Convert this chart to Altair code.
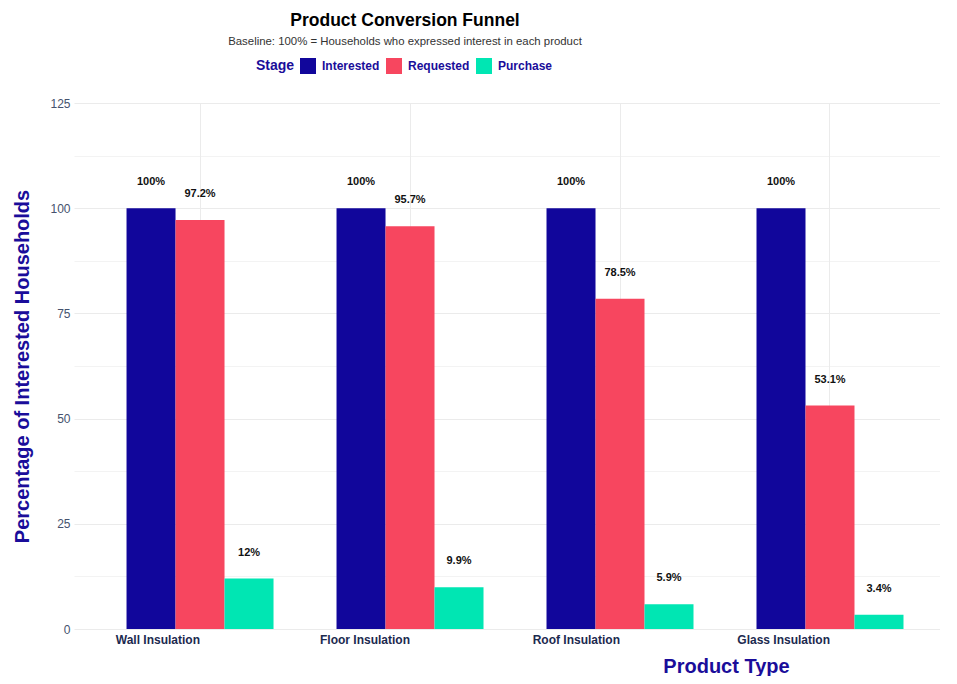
import altair as alt
import pandas as pd

products = ["Wall Insulation", "Floor Insulation", "Roof Insulation", "Glass Insulation"]
stages = ["Interested", "Requested", "Purchase"]
interested = [100, 100, 100, 100]
requested = [97.2, 95.7, 78.5, 53.1]
purchase = [12, 9.9, 5.9, 3.4]
stage_colors = ["#11069b", "#f7465f", "#00e6b3"]
y_ticks = [0, 12.5, 25, 37.5, 50, 62.5, 75, 87.5, 100, 112.5, 125]

rows = []
for i, p in enumerate(products):
    for s, vals in zip(stages, [interested, requested, purchase]):
        v = vals[i]
        rows.append({"Product": p, "Stage": s, "Value": v, "Label": f"{v:g}%"})
df = pd.DataFrame(rows)

FONT = "Liberation Sans"
NAVY = "#1a0d9a"

x_enc = alt.X(
    "Product:N",
    sort=products,
    scale=alt.Scale(paddingInner=0.3, paddingOuter=0.212, align=0.59),
    axis=alt.Axis(
        title="Product Type",
        titleFont=FONT,
        titleFontSize=20,
        titleFontWeight="bold",
        titleColor=NAVY,
        titleX=652,
        titleY=43,
        titleAlign="center",
        titleBaseline="alphabetic",
        labelAngle=0,
        labelAlign="right",
        labelFont=FONT,
        labelFontSize=12,
        labelFontWeight="bold",
        labelColor="#1c2a4f",
        labelPadding=5,
        ticks=False,
        tickSize=0,
        domain=False,
        grid=True,
        gridColor="#ebebeb",
        gridWidth=1,
    ),
)
xoff = alt.XOffset("Stage:N", sort=stages, scale=alt.Scale(paddingInner=0, paddingOuter=0))
y_enc = alt.Y(
    "Value:Q",
    scale=alt.Scale(domain=[0, 125], nice=False, zero=True),
    axis=alt.Axis(
        title="Percentage of Interested Households",
        titleFont=FONT,
        titleFontSize=20,
        titleFontWeight="bold",
        titleColor=NAVY,
        titlePadding=17,
        values=y_ticks,
        labelExpr="datum.value % 25 === 0 ? datum.label : ''",
        labelFont=FONT,
        labelFontSize=12,
        labelColor="#45526e",
        labelPadding=4,
        ticks=False,
        tickSize=0,
        domain=False,
        grid=True,
        gridColor="#ebebeb",
        gridWidth={"condition": {"test": "datum.value % 25 !== 0", "value": 0.6}, "value": 1.1},
    ),
)

bars = alt.Chart(df).mark_bar().encode(
    x=x_enc,
    xOffset=xoff,
    y=y_enc,
    color=alt.Color(
        "Stage:N",
        sort=stages,
        scale=alt.Scale(domain=stages, range=stage_colors),
        legend=alt.Legend(
            title="Stage",
            orient="none",
            legendX=182,
            legendY=-45,
            direction="horizontal",
            titleOrient="left",
            titleFont=FONT,
            titleFontSize=14,
            titleFontWeight="bold",
            titleColor=NAVY,
            titlePadding=5,
            titleBaseline="middle",
            labelFont=FONT,
            labelFontSize=12,
            labelFontWeight="bold",
            labelColor=NAVY,
            labelOffset=6,
            columnPadding=6,
            symbolType="square",
            symbolSize=256,
            symbolStrokeWidth=0,
            symbolOpacity=1,
        ),
    ),
)

labels = alt.Chart(df).mark_text(
    dy=-26, font=FONT, fontSize=11, fontWeight="bold", color="#111111", baseline="middle"
).encode(
    x=alt.X("Product:N", sort=products),
    xOffset=alt.XOffset("Stage:N", sort=stages),
    y=alt.Y("Value:Q"),
    text="Label:N",
)

chart = (
    alt.layer(bars, labels)
    .properties(
        width=866,
        height=526,
        title=alt.Title(
            text="Product Conversion Funnel",
            subtitle="Baseline: 100% = Households who expressed interest in each product",
            font=FONT,
            fontSize=17.5,
            fontWeight="bold",
            color="#000000",
            subtitleFont=FONT,
            subtitleFontSize=11.4,
            subtitleColor="#333333",
            subtitlePadding=6,
            anchor="middle",
            dx=-102,
            offset=11,
        ),
        padding={"left": 66, "top": 95, "right": 0, "bottom": 47},
        autosize=alt.AutoSizeParams(type="none"),
    )
    .configure_view(stroke=None)
)

chart.save("out.html", embed_options={"renderer": "svg", "actions": False})
